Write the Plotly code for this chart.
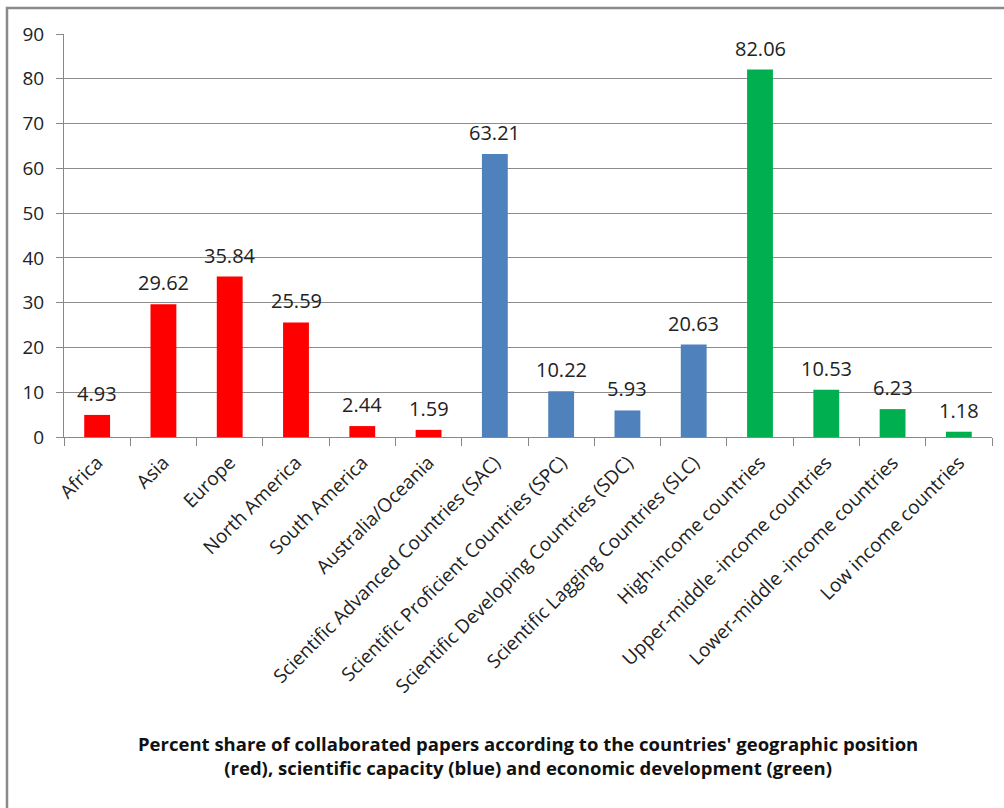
import plotly.graph_objects as go

categories = ["Africa", "Asia", "Europe", "North America", "South America", "Australia/Oceania",
              "Scientific Advanced Countries (SAC)", "Scientific Proficient Countries (SPC)",
              "Scientific Developing Countries (SDC)", "Scientific Lagging Countries (SLC)",
              "High-income countries", "Upper-middle -income countries",
              "Lower-middle -income countries", "Low income countries"]
values = [4.93, 29.62, 35.84, 25.59, 2.44, 1.59, 63.21, 10.22, 5.93, 20.63, 82.06, 10.53, 6.23, 1.18]
groups = ["geo"] * 6 + ["sci"] * 4 + ["eco"] * 4
group_colors = {"geo": "#FF0000", "sci": "#4F81BD", "eco": "#00B050"}
y_ticks = [0, 10, 20, 30, 40, 50, 60, 70, 80, 90]

FONT = "Open Sans"
TXT = "#222222"

fig = go.Figure(go.Bar(
    x=categories, y=values,
    marker=dict(color=[group_colors[g] for g in groups], line=dict(width=0)),
    cliponaxis=False,
))

for c, v in zip(categories, values):
    fig.add_annotation(x=c, y=v, text=f"{v:.2f}", showarrow=False,
                       xanchor="center", yanchor="bottom", yshift=6,
                       font=dict(family=FONT, size=20, color=TXT))

fig.update_layout(
    width=1004, height=808,
    margin=dict(l=64, r=12, t=34, b=371),
    paper_bgcolor="white", plot_bgcolor="white",
    bargap=0.61, showlegend=False,
    font=dict(family=FONT, size=16, color=TXT),
)
fig.update_xaxes(
    tickangle=-45, tickson="boundaries", ticks="outside", ticklen=8, tickcolor="#888888",
    showline=True, linecolor="#888888", linewidth=1, ticklabelstandoff=6,
    tickfont=dict(family=FONT, size=19, color=TXT), showgrid=False,
)
fig.update_yaxes(
    range=[0, 90], tickvals=y_ticks, ticks="outside", ticklen=7, tickcolor="#888888",
    showline=True, linecolor="#888888", linewidth=1, ticklabelstandoff=8,
    showgrid=True, gridcolor="#8c8c8c", gridwidth=1,
    tickfont=dict(family=FONT, size=19, color=TXT), zeroline=False,
)
fig.add_annotation(
    text="Percent share of collaborated papers according to the countries' geographic position<br>"
         "(red), scientific capacity (blue) and economic development (green)",
    xref="paper", yref="paper", x=0.5, y=0, xanchor="center", yanchor="top",
    yshift=-292, showarrow=False, align="center",
    font=dict(family=FONT, size=18.5, color="#111111", weight="bold", lineposition="none"),
)
fig.add_shape(type="rect", xref="paper", yref="paper",
              x0=(7 - 64) / 928, x1=(1010 - 64) / 928,
              y0=-(815 - 437) / 403, y1=1 + (34 - 8) / 403,
              line=dict(color="#8a8a8a", width=2.5), layer="below")
fig.write_html("out.html")
